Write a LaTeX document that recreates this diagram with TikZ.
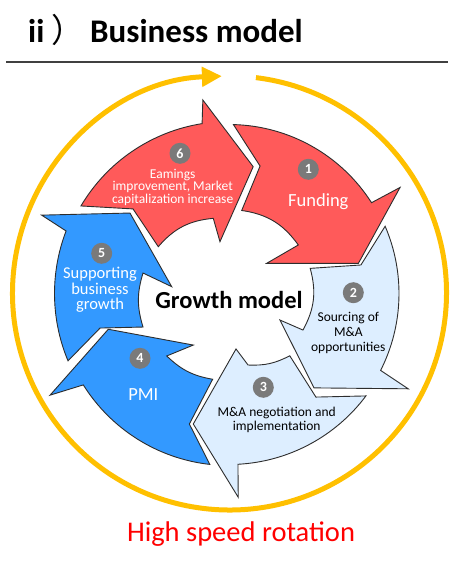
\documentclass[tikz,border=0pt]{standalone}
\usepackage{fontspec}
\setmainfont{Carlito}
\newfontfamily\cjkfont{Noto Sans CJK JP}
\usetikzlibrary{arrows.meta}
\definecolor{ringred}{RGB}{255,90,90}
\definecolor{ringblue}{RGB}{51,153,255}
\definecolor{ringlight}{RGB}{221,238,255}
\definecolor{gold}{RGB}{255,192,0}
\definecolor{numgray}{RGB}{122,122,122}
\definecolor{edgegray}{RGB}{45,45,45}
\begin{document}
\begin{tikzpicture}[x=1pt,y=1pt,
  cyc/.style={draw=edgegray, line width=0.9pt, line join=miter},
  numc/.style={circle, fill=numgray, minimum size=21pt, inner sep=0pt, text=white, font=\fontsize{14}{14}\selectfont\bfseries},
  wlab/.style={text=white, align=center, inner sep=0pt},
  blab/.style={text=black, align=center, inner sep=0pt}]
\useasboundingbox (0,0) rectangle (459,-568);
\fill[white] (0,0) rectangle (459,-568);

% title
\node[anchor=base west, inner sep=0pt, font=\fontsize{33}{33}\selectfont\bfseries] (tii) at (28,-42.7) {ii};
\node[anchor=base west, inner sep=0pt, font=\fontsize{33}{33}\selectfont\cjkfont] (tpar) at (51,-42.7) {）};
\node[anchor=base west, inner sep=0pt, font=\fontsize{33}{33}\selectfont\bfseries] (tbm) at (90,-42.7) {Business model};
\coordinate (rl) at (6,-62);
\coordinate (rr) at (448,-62);
\draw[line width=1.5pt, black!75] (rl) -- (rr);

% yellow rotation ring
\coordinate (Y) at (229.5,-293);
\draw[gold, line width=5pt, -{Triangle[length=20pt,width=19pt]}]
  ([shift={(83:217pt)}]Y) arc[start angle=83, end angle=-268, radius=217pt];

% cycle arrows
\begin{scope}[shift={(229,-293.5)}]
% 1 Funding
\draw[cyc, fill=ringred] (88.5:169) -- (76.3:131.2) -- (81.3:84) to[bend left=23] (35:84.6)
  -- (38.7:48.3) -- (13.1:132.8) -- (31.8:201.3) -- (32.5:169)
  arc[start angle=32.5, end angle=88.5, radius=169pt] -- cycle;
% 2 Sourcing
\draw[cyc, fill=ringlight] (23.3:170) -- (12.2:135) -- (17.2:85) to[bend left=22] (-26.3:82.5)
  -- (-27.5:57.5) -- (-48:127) -- (-28:203) -- (-26.9:170)
  arc[start angle=-26.9, end angle=23.3, radius=170pt] -- cycle;
% 3 Negotiation
\draw[cyc, fill=ringlight] (-36.8:171) -- (-50:135.2) -- (-45.7:87) to[bend left=15] (-75.1:74)
  -- (-82.8:55.9) -- (-105.3:135.3) -- (-87.4:204) -- (-87:171)
  arc[start angle=-87, end angle=-36.8, radius=171pt] -- cycle;
% 4 PMI
\draw[cyc, fill=ringblue] (-96.4:172) -- (-106.9:136.4) -- (-100.8:87.3) to[bend left=17] (-134.9:88.2)
  -- (-124.7:62.7) -- (-163.5:125.9) -- (-150.4:205.8) -- (-147.9:172)
  arc[start angle=-147.9, end angle=-96.4, radius=172pt] -- cycle;
% 5 Supporting
\draw[cyc, fill=ringblue] (202.7:174.5) -- (195:133.5) -- (201.3:92.3) to[bend left=17] (166.6:88.4)
  -- (173.2:57.7) -- (140.9:127.6) -- (157.3:203.1) -- (159:174.5)
  arc[start angle=159, end angle=202.7, radius=174.5pt] -- cycle;
% 6 Earnings
\draw[cyc, fill=ringred] (149.4:172) -- (138.6:127.9) -- (146.5:84.8) to[bend left=22] (101.8:76.8)
  -- (99.9:52.6) -- (79.2:129.1) -- (97.7:195.3) -- (99:172)
  arc[start angle=99, end angle=149.4, radius=172pt] -- cycle;
\end{scope}

% number badges
\node[numc] (n1) at (308.3,-169.3) {1};
\node[numc] (n2) at (353.3,-292.7) {2};
\node[numc] (n3) at (263.3,-387.3) {3};
\node[numc] (n4) at (140,-358.3) {4};
\node[numc] (n5) at (101.7,-253.3) {5};
\node[numc] (n6) at (180,-153.3) {6};

% labels
\node[wlab, anchor=base, font=\fontsize{18.5}{18.5}\selectfont] (l1) at (318.3,-206.5) {Funding};
\node[blab, font=\fontsize{13.5}{15}\selectfont] (l2) at (348.3,-332.5) {Sourcing of\\M\&A\\opportunities};
\node[blab, font=\fontsize{13.5}{14}\selectfont] (l3) at (276.7,-419.5) {M\&A negotiation and\\implementation};
\node[wlab, anchor=base, font=\fontsize{18.5}{18.5}\selectfont] (l4) at (143.3,-400.7) {PMI};
\node[wlab, font=\fontsize{16.5}{15.5}\selectfont] (l5) at (100,-289.8) {Supporting\\business\\growth};
\node[wlab, font=\fontsize{13.5}{12.6}\selectfont] (l6) at (172.7,-187.3) {Eamings\\improvement, Market\\capitalization increase};

\node[anchor=base, inner sep=0pt, font=\fontsize{24.5}{24.5}\selectfont\bfseries] (gm) at (229,-308.5) {Growth model};
\node[anchor=base, inner sep=0pt, text={rgb,255:red,255;green,0;blue,0}, font=\fontsize{28.5}{28.5}\selectfont] (hs) at (241,-541.7) {High speed rotation};
\end{tikzpicture}
\end{document}
